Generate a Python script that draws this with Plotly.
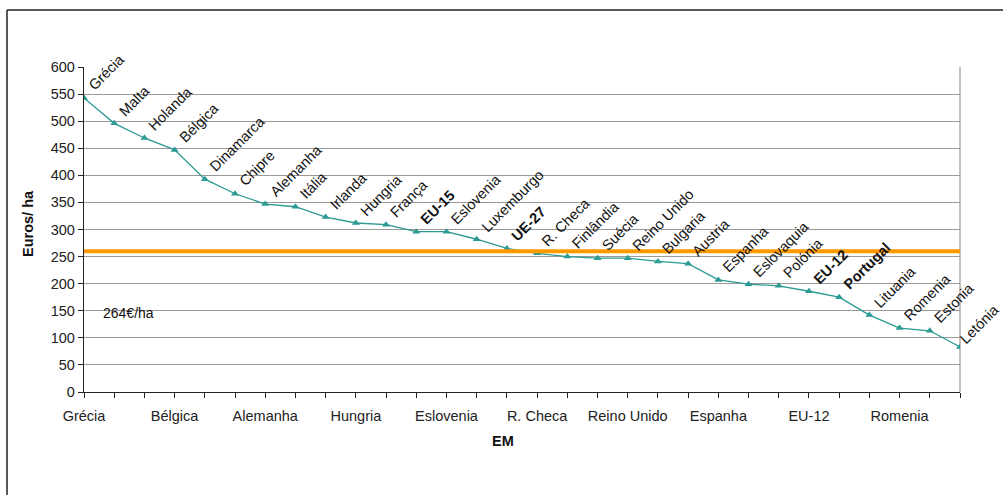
import plotly.graph_objects as go

countries = ["Grécia", "Malta", "Holanda", "Bélgica", "Dinamarca", "Chipre", "Alemanha",
             "Itália", "Irlanda", "Hungria", "França", "EU-15", "Eslovenia", "Luxemburgo",
             "UE-27", "R. Checa", "Finlândia", "Suécia", "Reino Unido", "Bulgaria", "Austria",
             "Espanha", "Eslovaquia", "Polónia", "EU-12", "Portugal", "Lituania", "Romenia",
             "Estonia", "Letónia"]
values = [543, 496, 469, 447, 393, 366, 347, 342, 323, 312, 309, 296, 296, 282, 265, 256,
          250, 247, 247, 241, 237, 207, 199, 196, 186, 175, 142, 118, 113, 83]
bold_labels = ["EU-15", "UE-27", "EU-12", "Portugal"]
reference_value = 260
reference_label = "264€/ha"
yticks = [0, 50, 100, 150, 200, 250, 300, 350, 400, 450, 500, 550, 600]

W, H = 1003, 495
L, R, T, B = 84, 43, 67, 103
pw, ph = W - L - R, H - T - B

def px_x(px):
    return (px - L) / pw

def px_y(py):
    return (H - B - py) / ph

FONT = "Liberation Sans, Arial, sans-serif"
TEAL = "#2A9A93"
FS = 14.5

fig = go.Figure()
fig.add_trace(go.Scatter(
    x=countries, y=values, mode="lines+markers",
    line=dict(color=TEAL, width=1.3),
    marker=dict(symbol="triangle-up", size=7, color=TEAL),
    showlegend=False, hoverinfo="x+y"))
fig.add_trace(go.Scatter(
    x=[countries[0], countries[-1]], y=[reference_value, reference_value], mode="lines",
    line=dict(color="#FF9900", width=4), showlegend=False, hoverinfo="skip"))

annotations = []
n = len(countries)
for i, (c, v) in enumerate(zip(countries, values)):
    txt = f"<b>{c}</b>" if c in bold_labels else c
    last = i == n - 1
    annotations.append(dict(
        x=c, y=v, xref="x", yref="y", text=txt, textangle=-45, showarrow=False,
        xanchor="left", yanchor="bottom", borderpad=0,
        xshift=-5 if last else 0, yshift=-1 if last else 3,
        font=dict(family=FONT, size=FS, color="#111")))

annotations.append(dict(x=px_x(101), y=145, xref="paper", yref="y", text=reference_label,
                        showarrow=False, xanchor="left", yanchor="middle",
                        font=dict(family=FONT, size=14, color="#111")))
annotations.append(dict(x=px_x(28), y=px_y(224), xref="paper", yref="paper",
                        text="<b>Euros/ ha</b>", textangle=-90, showarrow=False,
                        xanchor="center", yanchor="middle",
                        font=dict(family=FONT, size=FS, color="#111")))
annotations.append(dict(x=px_x(503), y=px_y(441), xref="paper", yref="paper",
                        text="<b>EM</b>", showarrow=False,
                        xanchor="center", yanchor="middle",
                        font=dict(family=FONT, size=FS, color="#111")))

shapes = [
    # outer frame (left and top)
    dict(type="line", xref="paper", yref="paper", x0=px_x(7), x1=px_x(7),
         y0=px_y(10), y1=px_y(500), line=dict(color="#222", width=1.5)),
    dict(type="line", xref="paper", yref="paper", x0=px_x(7), x1=px_x(1010),
         y0=px_y(10), y1=px_y(10), line=dict(color="#222", width=1.5)),
    # plot-area right border
    dict(type="line", xref="paper", yref="paper", x0=1, x1=1, y0=0, y1=1,
         line=dict(color="#999", width=1.2), layer="below"),
]

tick_text = [c if i % 3 == 0 else "" for i, c in enumerate(countries)]

fig.update_layout(
    width=W, height=H,
    margin=dict(l=L, r=R, t=T, b=B, pad=0),
    paper_bgcolor="white", plot_bgcolor="white",
    font=dict(family=FONT, size=FS, color="#222"),
    annotations=annotations, shapes=shapes,
    xaxis=dict(type="category", categoryorder="array", categoryarray=countries,
               range=[0, len(countries) - 1],
               tickmode="array", tickvals=countries, ticktext=tick_text,
               ticks="outside", ticklen=5, tickcolor="#222", tickwidth=1,
               ticklabelstandoff=5,
               showline=True, linecolor="#222", linewidth=1.3,
               showgrid=False, zeroline=False, tickangle=0,
               tickfont=dict(family=FONT, size=FS, color="#222")),
    yaxis=dict(range=[0, 600], tickmode="array", tickvals=yticks,
               ticks="outside", ticklen=5, tickcolor="#222",
               showline=True, linecolor="#222", linewidth=1.3,
               showgrid=True, gridcolor="#999", gridwidth=1, zeroline=False,
               tickfont=dict(family=FONT, size=FS, color="#222")),
)

fig.write_html("out.html")
